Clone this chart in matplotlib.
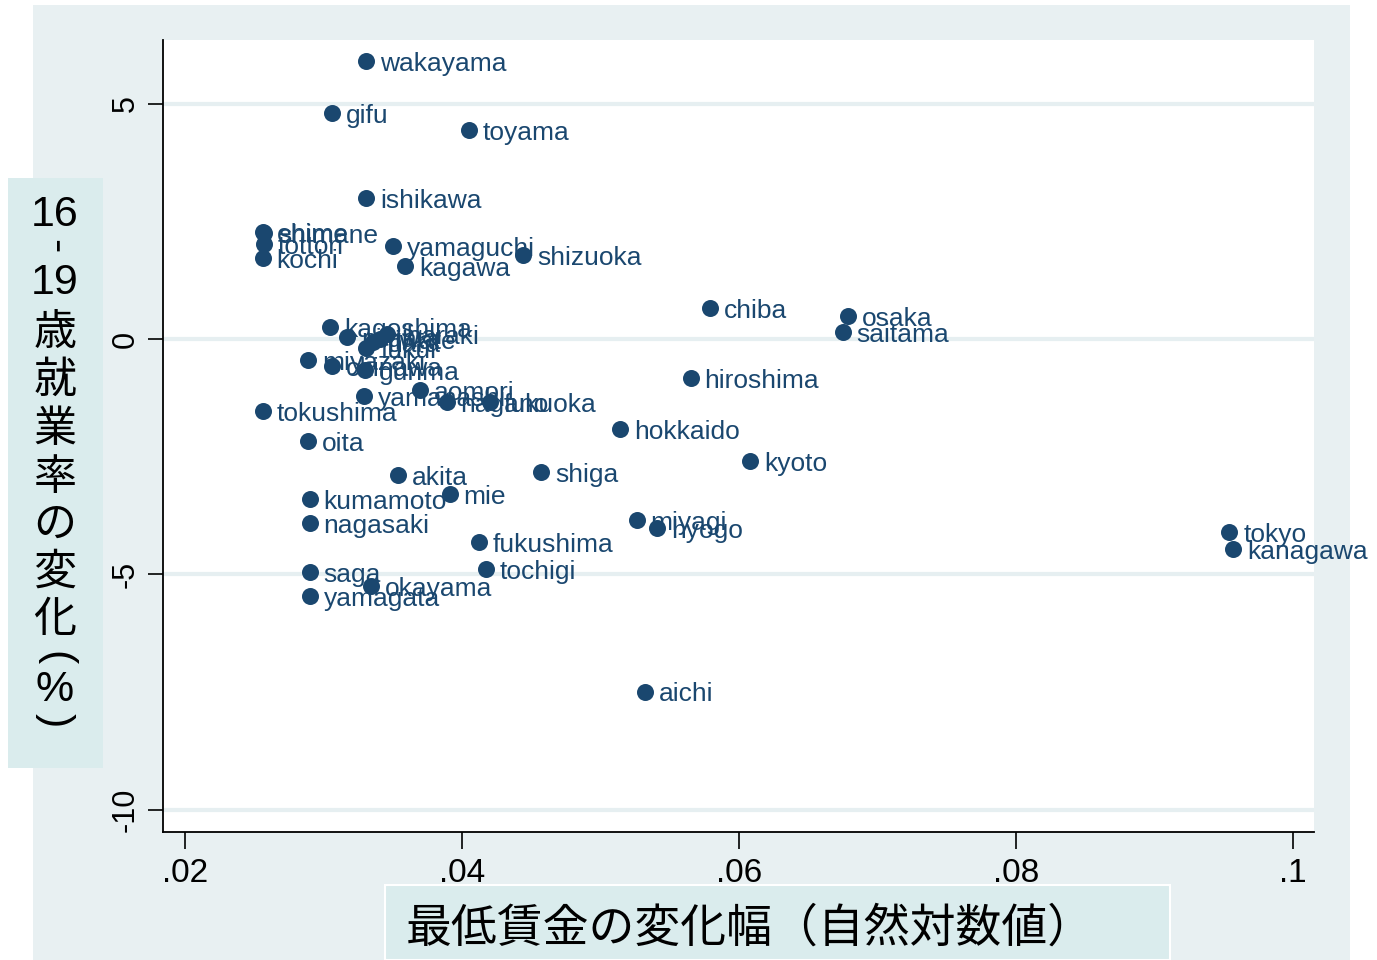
import matplotlib
matplotlib.use("Agg")
import matplotlib.pyplot as plt
from matplotlib.patches import Rectangle

# 都道府県ごとの値（最低賃金の変化幅, 16-19歳就業率の変化）
names = ["wakayama", "gifu", "toyama", "ishikawa", "ehime", "shimane", "tottori", "kochi",
         "yamaguchi", "kagawa", "shizuoka", "chiba", "osaka", "saitama", "hiroshima",
         "hokkaido", "kyoto", "shiga", "akita", "mie", "kumamoto", "nagasaki", "fukushima",
         "miyagi", "hyogo", "tokyo", "kanagawa", "saga", "okayama", "yamagata", "tochigi",
         "aichi", "tokushima", "oita", "kagoshima", "niigata", "nara", "ibaraki", "iwate",
         "fukui", "miyazaki", "okinawa", "gunma", "yamanashi", "aomori", "nagano", "fukuoka"]
dlnmw = [0.0331, 0.0306, 0.0405, 0.0331, 0.0256, 0.0257, 0.0257, 0.0256,
         0.0350, 0.0359, 0.0444, 0.0579, 0.0679, 0.0675, 0.0565,
         0.0514, 0.0608, 0.0457, 0.0354, 0.0391, 0.0290, 0.0290, 0.0412,
         0.0526, 0.0541, 0.0954, 0.0957, 0.0290, 0.0334, 0.0290, 0.0417,
         0.0532, 0.0256, 0.0289, 0.0305, 0.0317, 0.0336, 0.0346, 0.0341,
         0.0331, 0.0289, 0.0306, 0.0330, 0.0329, 0.0370, 0.0389, 0.0420]
demp = [5.90, 4.80, 4.44, 2.99, 2.27, 2.25, 2.02, 1.72,
        1.97, 1.55, 1.78, 0.66, 0.49, 0.15, -0.83,
        -1.91, -2.59, -2.82, -2.89, -3.29, -3.40, -3.91, -4.31,
        -3.84, -4.01, -4.10, -4.46, -4.95, -5.24, -5.46, -4.88,
        -7.49, -1.53, -2.17, 0.25, 0.04, -0.06, 0.11, 0.00,
        -0.19, -0.45, -0.57, -0.66, -1.21, -1.08, -1.34, -1.34]

xticks = [0.02, 0.04, 0.06, 0.08, 0.1]
xticklabels = [".02", ".04", ".06", ".08", ".1"]
yticks = [5, 0, -5, -10]
xlabel = "最低賃金の変化幅（自然対数値）"
ylabel_chars = ["16", "-", "19", "歳", "就", "業", "率", "の", "変", "化", "(", "%", ")"]

navy = "#1a476f"
W, H = 1377, 960
fig = plt.figure(figsize=(W / 100, H / 100), dpi=100)
fig.patch.set_facecolor("white")

# 外側の背景
fig.patches.append(Rectangle((33 / W, 0), (1350 - 33) / W, (960 - 5) / H,
                             transform=fig.transFigure, facecolor="#e8f0f2",
                             edgecolor="none", zorder=-10))

ax = fig.add_axes([163 / W, (H - 832) / H, (1314 - 163) / W, (832 - 40) / H])
ax.set_zorder(1)
ax.set_facecolor("white")
ax.set_xlim(0.01841, 0.10152)
ax.set_ylim(-10.47, 6.35)

ax.scatter(dlnmw, demp, s=150, color=navy, zorder=3, linewidths=0)
for n, x, y in zip(names, dlnmw, demp):
    ax.annotate(n, (x, y), xytext=(10, -2), textcoords="offset points",
                va="center", ha="left", color=navy, fontsize=19,
                family="Liberation Sans", zorder=4)

for yt in yticks:
    ax.axhline(yt, color="#e6eff1", lw=3, zorder=1)

ax.spines["top"].set_visible(False)
ax.spines["right"].set_visible(False)
ax.spines["left"].set_linewidth(1.3)
ax.spines["bottom"].set_linewidth(1.3)

ax.set_xticks(xticks)
ax.set_xticklabels(xticklabels, family="Liberation Sans", fontsize=24)
ax.set_yticks(yticks)
ax.set_yticklabels([str(t) for t in yticks], family="Liberation Sans", fontsize=22,
                   rotation=90, va="center")
ax.tick_params(axis="x", length=12, width=1.2, pad=7)
ax.tick_params(axis="y", length=11, width=1.2, pad=5)

# x軸ラベルの箱
fig.patches.append(Rectangle((385 / W, 0), (1170 - 385) / W, (960 - 885) / H,
                             transform=fig.transFigure, facecolor="#daeced",
                             edgecolor="white", lw=1.5, zorder=2))
fig.text(750 / W, 1 - 928 / H, xlabel, ha="center", va="center", fontsize=33,
         family=["Noto Sans CJK JP", "DejaVu Sans"], zorder=3)

# y軸ラベル（縦書き）
fig.patches.append(Rectangle((8 / W, 1 - 768 / H), (103 - 8) / W, (768 - 178) / H,
                             transform=fig.transFigure, facecolor="#daeced",
                             edgecolor="none", zorder=2))
ypos = [215, 246, 283, 333, 381, 430, 478, 525, 573, 620, 658, 690, 720]
for ch, yp in zip(ylabel_chars, ypos):
    rot = -90 if ch in ("-", "(", ")") else 0
    if ch.isascii():
        fam = ["Liberation Sans", "DejaVu Sans"]
    else:
        fam = ["Noto Sans CJK JP", "DejaVu Sans"]
    fig.text(55 / W, 1 - yp / H, ch, ha="center", va="center", fontsize=31,
             rotation=rot, family=fam, zorder=3)

fig.savefig("out.png", dpi=100)
